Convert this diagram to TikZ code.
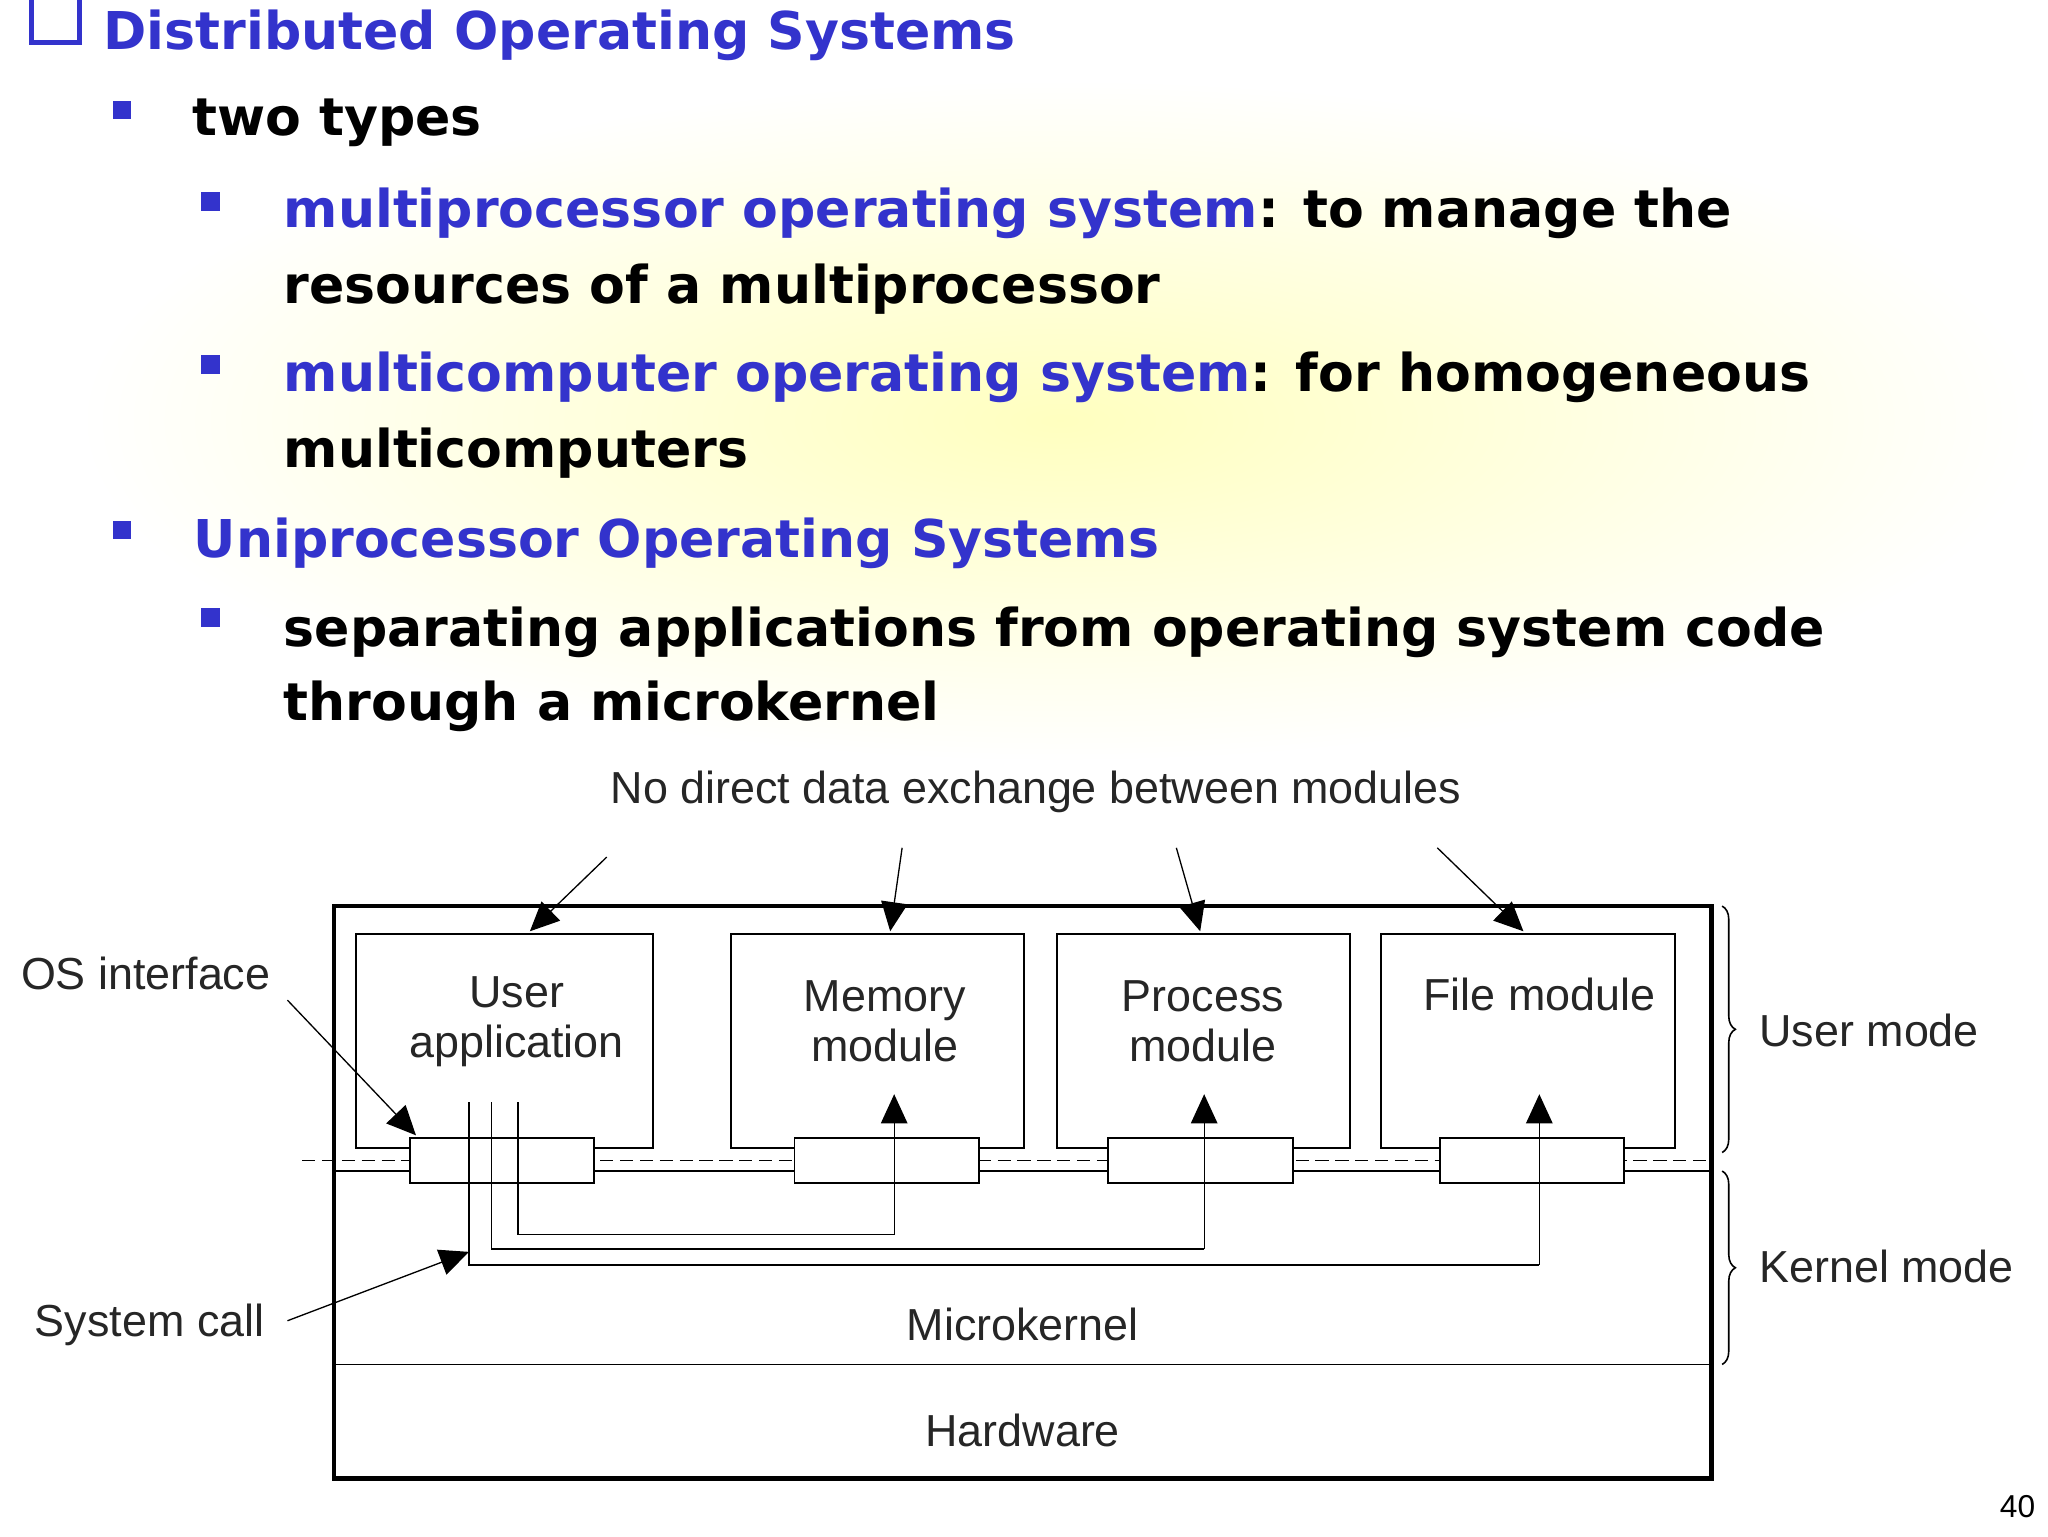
\documentclass[tikz,border=0pt]{standalone}
\usepackage{fontspec}
\setmainfont{DejaVu Sans}
\newfontfamily\dia{Liberation Sans}
\usetikzlibrary{decorations.pathreplacing,arrows.meta}
\definecolor{tblue}{RGB}{51,51,204}
\begin{document}
\begin{tikzpicture}[x=1bp,y=-1bp,
  bt/.style={anchor=west,font=\bfseries\fontsize{39.5}{44}\selectfont,inner sep=0},
  bl/.style={fill=tblue,minimum size=14bp,inner sep=0},
  mod/.style={draw,line width=1.5bp,anchor=north west,inner sep=0},
  dt/.style={font=\dia\fontsize{34}{38}\selectfont,inner sep=0,text=black!85},
  ar/.style={-{Triangle[length=22bp,width=20bp]},line width=1bp},
  thin/.style={line width=1.2bp}]
\useasboundingbox (0,0) rectangle (1546,1160);
\shade[inner color=yellow!25,outer color=white] (60,60) rectangle (1540,575);
% title
\draw[tblue,line width=4bp] (24,0) -- (24,32) -- (60,32) -- (60,0);
\node[bt,text=tblue] (t0) at (78,27) {Distributed Operating Systems};
\node[bl] (b1) at (92,83) {};
\node[bt] (t1) at (145,93) {two types};
\node[bl] (b2) at (159,152) {};
\node[bt] (t2) at (214,161) {\textcolor{tblue}{multiprocessor operating system}: to manage the};
\node[bt] (t2b) at (214,218) {resources of a multiprocessor};
\node[bl] (b3) at (159,275) {};
\node[bt] (t3) at (214,285) {\textcolor{tblue}{multicomputer operating system}: for homogeneous};
\node[bt] (t3b) at (214,342) {multicomputers};
\node[bl] (b4) at (92,400) {};
\node[bt,text=tblue] (t4) at (146,410) {Uniprocessor Operating Systems};
\node[bl] (b5) at (159,466) {};
\node[bt] (t5) at (214,477) {separating applications from operating system code};
\node[bt] (t5b) at (214,533) {through a microkernel};
% diagram
\draw[line width=3.5bp] (252,684) rectangle (1292,1116);
\draw[thin] (252,1030) -- (1292,1030);
\node[dt] (hw) at (772,1080) {Hardware};
\node[dt] (mk) at (772,1000) {Microkernel};
\draw[thin,dash pattern=on 10bp off 5bp] (228,876) -- (1292,876);
\draw[thin] (252,884) -- (1292,884);
\node[mod,minimum width=224bp,minimum height=162bp] (ua) at (268,704) {};
\node[mod,minimum width=221bp,minimum height=162bp] (mm) at (551,704) {};
\node[mod,minimum width=221bp,minimum height=162bp] (pm) at (797,704) {};
\node[mod,minimum width=222bp,minimum height=162bp] (fm) at (1042,704) {};
\node[dt,align=center] at (390,771) {User\\application};
\node[dt,align=center] at (668,771) {Memory\\module};
\node[dt,align=center] at (908,771) {Process\\module};
\node[dt] at (1162,751) {File module};
\foreach \n/\x in {i1/309,i2/599,i3/836,i4/1086}
  \node[mod,fill=white,minimum width=139bp,minimum height=34bp] (\n) at (\x,858) {};
\draw[thin] (391,832) |- (675,932);
\draw[ar] (675,932) -- (675,826);
\draw[thin] (371,832) |- (909,943);
\draw[ar] (909,943) -- (909,826);
\draw[thin] (354,832) |- (1162,955);
\draw[ar] (1162,955) -- (1162,826);
% top labels
\node[dt] (nd) at (782,598) {No direct data exchange between modules};
\coordinate (a1) at (458,647); \coordinate (a2) at (681,640);
\coordinate (a3) at (888,640); \coordinate (a4) at (1085,640);
\draw[ar] (a1) -- (400,703);
\draw[ar] (a2) -- (672,703);
\draw[ar] (a3) -- (906,703);
\draw[ar] (a4) -- (1150,703);
\node[dt] (osi) at (110,735) {OS interface};
\draw[ar] (217,755) -- (314,857);
\node[dt] (sc) at (113,1000) {System call};
\draw[ar] (217,997) -- (354,945);
\draw[thin,decorate,decoration={brace,amplitude=10bp}] (1300,684) -- (1300,870);
\draw[thin,decorate,decoration={brace,amplitude=10bp}] (1300,884) -- (1300,1030);
\node[dt,anchor=west] (um) at (1328,778) {User mode};
\node[dt,anchor=west] (km) at (1328,956) {Kernel mode};
\node[font=\dia\fontsize{24}{28}\selectfont] (pg) at (1523,1137) {40};
\end{tikzpicture}
\end{document}
